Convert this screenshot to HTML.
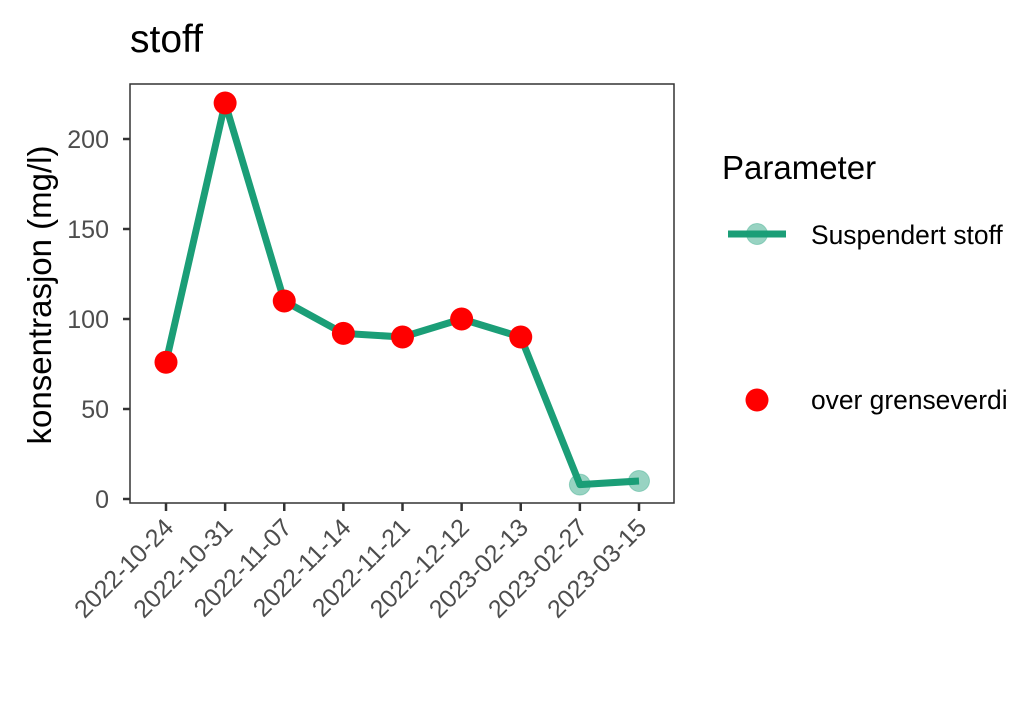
<!DOCTYPE html>
<html><head><meta charset="utf-8"><style>
body{margin:0;background:#fff;font-family:"Liberation Sans",sans-serif}
svg text{font-family:"Liberation Sans",sans-serif}
</style></head><body>
<svg id="c" width="1031" height="704" xmlns="http://www.w3.org/2000/svg">
<rect width="1031" height="704" fill="#fff"/>
<text x="130" y="52" font-size="39" fill="#000">stoff</text>
<text transform="translate(51,295) rotate(-90)" text-anchor="middle" font-size="33" fill="#000">konsentrasjon (mg/l)</text>
<g id="plot"></g>
<text x="722" y="179" font-size="33" fill="#000">Parameter</text>
<g>
<line x1="728" y1="234" x2="786" y2="234" stroke="#1b9e77" stroke-width="7"/>
<circle cx="757" cy="234" r="10.5" fill="rgba(27,158,119,0.45)" stroke="rgba(27,158,119,0.35)"/>
<text x="811" y="244" font-size="26.4" fill="#000">Suspendert stoff</text>
</g>
<g>
<circle cx="757" cy="400" r="11.5" fill="#ff0000"/>
<text x="811" y="409" font-size="26.4" fill="#000">over grenseverdi</text>
</g>
</svg>
<script>
const categories=["2022-10-24","2022-10-31","2022-11-07","2022-11-14","2022-11-21","2022-12-12","2023-02-13","2023-02-27","2023-03-15"];
const values=[76,220,110,92,90,100,90,8,10];
const overLimit=[true,true,true,true,true,true,true,false,false];
const yTicks=[0,50,100,150,200];
const NS="http://www.w3.org/2000/svg";
const L=130,R=674,T=84,B=503;
const x=i=>166+i*(639-166)/(categories.length-1);
const y=v=>499-v*1.8;
const g=document.getElementById('plot');
function mk(t,a,p){const e=document.createElementNS(NS,t);for(const k in a)e.setAttribute(k,a[k]);(p||g).appendChild(e);return e;}
const frame=mk('rect',{x:L,y:T,width:R-L,height:B-T,fill:'none',stroke:'#333','stroke-width':1.5});


yTicks.forEach(v=>{
  const tk=mk('line',{x1:L-7,x2:L,y1:y(v),y2:y(v),stroke:'#333','stroke-width':2.5});
  
  
  const t=mk('text',{x:L-21,y:y(v)+9,'text-anchor':'end','font-size':25,fill:'#4d4d4d'});
  t.textContent=v;
  
  
});
categories.forEach((c,i)=>{
  const tk=mk('line',{x1:x(i),x2:x(i),y1:B,y2:B+8,stroke:'#333','stroke-width':2.5});
  
  
  const t=mk('text',{transform:`translate(${x(i)+9},${B+26}) rotate(-45)`,'text-anchor':'end','font-size':25,fill:'#4d4d4d'});
  t.textContent=c;
  
  
});
const pl=mk('polyline',{points:values.map((v,i)=>x(i)+','+y(v)).join(' '),fill:'none',stroke:'#1b9e77','stroke-width':7,'stroke-linejoin':'round'});


values.forEach((v,i)=>{
  const c=mk('circle',{cx:x(i),cy:y(v),r:10.5,fill:'rgba(27,158,119,0.45)',stroke:'rgba(27,158,119,0.35)'});
  
  
});
values.forEach((v,i)=>{
  if(!overLimit[i])return;
  const c=mk('circle',{cx:x(i),cy:y(v),r:11.5,fill:'#ff0000'});
  
  
});
</script>
</body></html>
